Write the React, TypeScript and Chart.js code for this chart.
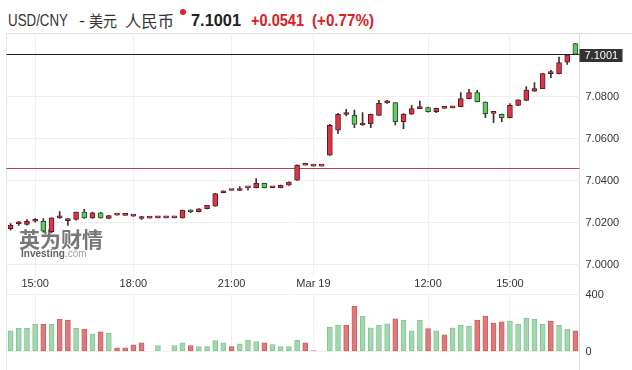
import React, { useEffect, useLayoutEffect, useRef } from "react";
import { Chart, registerables } from "chart.js";
Chart.register(...registerables);

// ---- data ----
const categories: string[] = Array.from({ length: 70 }, (_, i) => String(i));
const tickIndex = [3, 15, 27, 37, 51, 61];
const tickText = ["15:00", "18:00", "21:00", "Mar 19", "12:00", "15:00"];
const priceTicks = [7.0, 7.02, 7.04, 7.06, 7.08];
const volTicks = [0, 400];
const lastPrice = 7.1001;
const prevClose = 7.046;

const opens = [
  7.0172, 7.0196, 7.0193, 7.0208, 7.0208, 7.0158, 7.0224, 7.0211, 7.0216, 7.0251,
  7.0224, 7.0248, 7.0221, 7.0237, 7.0236, 7.0232, 7.0221, 7.0223, 7.0224, 7.0224,
  7.0224, 7.0224, 7.0261, 7.0253, 7.0267, 7.028, 7.0343, 7.0354, 7.0354, 7.0366,
  7.0367, 7.0388, 7.0367, 7.0367, 7.0379, 7.0403, 7.0474, 7.047, 7.047, 7.0522,
  7.0641, 7.0715, 7.0711, 7.0665, 7.0671, 7.0711, 7.077, 7.0771, 7.0681, 7.0716,
  7.0743, 7.0748, 7.0728, 7.0744, 7.0746, 7.0752, 7.079, 7.0819, 7.0774, 7.072,
  7.0716, 7.07, 7.0758, 7.0782, 7.0826, 7.0838, 7.0909, 7.0909, 7.0964, 7.1052,
];
const highs = [
  7.0197, 7.0207, 7.0216, 7.022, 7.0221, 7.0224, 7.0254, 7.0221, 7.0251, 7.0264,
  7.0251, 7.025, 7.0236, 7.0237, 7.0237, 7.0233, 7.0231, 7.0223, 7.0224, 7.0224,
  7.0227, 7.0261, 7.0262, 7.0268, 7.0284, 7.034, 7.0352, 7.0354, 7.0372, 7.0367,
  7.041, 7.0389, 7.0367, 7.038, 7.0395, 7.0476, 7.0474, 7.047, 7.047, 7.0668,
  7.072, 7.0739, 7.0736, 7.0724, 7.0717, 7.0782, 7.0782, 7.0772, 7.0719, 7.0758,
  7.0779, 7.075, 7.0745, 7.0744, 7.075, 7.0819, 7.0835, 7.083, 7.0775, 7.0721,
  7.0717, 7.0767, 7.0785, 7.0847, 7.0866, 7.091, 7.0925, 7.0988, 7.0999, 7.1053,
];
const lows = [
  7.0165, 7.0188, 7.0189, 7.0204, 7.0156, 7.0153, 7.0221, 7.0188, 7.0213, 7.0221,
  7.0221, 7.0222, 7.022, 7.0237, 7.0236, 7.0231, 7.0216, 7.0223, 7.0224, 7.0224,
  7.0224, 7.0223, 7.0248, 7.0252, 7.0266, 7.0279, 7.0342, 7.0354, 7.0353, 7.0356,
  7.0366, 7.0366, 7.0367, 7.0366, 7.0378, 7.0402, 7.0474, 7.047, 7.047, 7.0521,
  7.0624, 7.0708, 7.0652, 7.0663, 7.0652, 7.071, 7.0768, 7.0665, 7.0648, 7.0715,
  7.0743, 7.0726, 7.0724, 7.0744, 7.0746, 7.0751, 7.0789, 7.0775, 7.07, 7.0676,
  7.0681, 7.0699, 7.0757, 7.0781, 7.0825, 7.0837, 7.089, 7.0908, 7.0953, 7.1,
];
const closes = [
  7.0188, 7.0198, 7.0207, 7.0209, 7.0161, 7.0224, 7.0225, 7.0212, 7.0251, 7.0224,
  7.0248, 7.0224, 7.0235, 7.0237, 7.0237, 7.0232, 7.0221, 7.0223, 7.0224, 7.0224,
  7.0227, 7.0261, 7.0253, 7.0267, 7.0283, 7.0339, 7.0351, 7.0354, 7.0362, 7.0367,
  7.0388, 7.0367, 7.0367, 7.0379, 7.0394, 7.0475, 7.0474, 7.047, 7.047, 7.0663,
  7.0716, 7.0716, 7.0668, 7.0673, 7.0716, 7.0768, 7.0771, 7.0681, 7.0716, 7.0743,
  7.0744, 7.0728, 7.0744, 7.0744, 7.075, 7.079, 7.0819, 7.0776, 7.0719, 7.072,
  7.07, 7.0758, 7.0784, 7.0831, 7.0838, 7.0909, 7.091, 7.0961, 7.0998, 7.1001,
];
const volumes = [
  145, 163, 163, 191, 191, 191, 225, 221, 163, 157,
  122, 138, 129, 26, 26, 46, 60, 0, 41, 0,
  41, 60, 41, 34, 34, 76, 60, 34, 53, 81,
  69, 60, 48, 34, 34, 81, 60, 7, 0, 172,
  186, 186, 317, 248, 166, 186, 195, 230, 221, 145,
  221, 161, 145, 117, 166, 186, 179, 221, 248, 200,
  209, 214, 191, 234, 225, 191, 214, 184, 157, 145,
];
// 'g' = green bar, 'r' = red bar
const volSide = [
  "g", "g", "g", "g", "r", "g", "r", "r", "g", "r",
  "g", "r", "g", "r", "r", "r", "r", "g", "g", "g",
  "g", "g", "r", "g", "g", "g", "g", "r", "g", "g",
  "g", "r", "g", "g", "g", "g", "r", "r", "g", "g",
  "g", "r", "r", "g", "g", "g", "g", "r", "g", "g",
  "g", "r", "g", "r", "g", "g", "g", "r", "r", "r",
  "r", "g", "g", "g", "g", "g", "r", "g", "g", "r",
];

const FONT = "'Liberation Sans', Arial, sans-serif";
const CJKFONT = "'Noto Sans CJK SC', sans-serif";
const GRID = "#efefef";

const refLines = {
  id: "refLines",
  beforeDatasetsDraw(chart: any) {
    const { ctx, chartArea } = chart;
    const y = chart.scales.y;
    ctx.save();
    // watermark
    ctx.fillStyle = "rgba(95,95,95,0.85)";
    ctx.font = "bold 21px 'Noto Sans CJK SC', sans-serif";
    ctx.textBaseline = "alphabetic";
    ctx.fillText("英为财情", 19, 247);
    ctx.font = "bold 10px " + FONT;
    ctx.fillStyle = "rgba(80,80,80,0.9)";
    ctx.fillText("Investing", 21, 257);
    const w = ctx.measureText("Investing").width;
    ctx.font = "10px " + FONT;
    ctx.fillStyle = "rgba(150,150,150,0.9)";
    ctx.fillText(".com", 21 + w, 257);
    // previous close
    const yp = Math.round(y.getPixelForValue(prevClose)) + 0.5;
    ctx.strokeStyle = "#b4414f";
    ctx.lineWidth = 1;
    ctx.beginPath();
    ctx.moveTo(chartArea.left, yp);
    ctx.lineTo(chartArea.right, yp);
    ctx.stroke();
    // last price
    const yl = Math.round(y.getPixelForValue(lastPrice)) + 0.5;
    ctx.strokeStyle = "#222";
    ctx.beginPath();
    ctx.moveTo(chartArea.left, yl);
    ctx.lineTo(chartArea.right, yl);
    ctx.stroke();
    ctx.restore();
  },
  afterDraw(chart: any) {
    const { ctx, chartArea } = chart;
    const y = chart.scales.y;
    const yl = Math.round(y.getPixelForValue(lastPrice));
    ctx.save();
    ctx.fillStyle = "#333";
    ctx.fillRect(chartArea.right, yl - 5, 43, 13);
    ctx.fillStyle = "#fff";
    ctx.font = "11px " + FONT;
    ctx.textBaseline = "middle";
    ctx.fillText(lastPrice.toFixed(4), chartArea.right + 5, yl + 1.5);
    ctx.restore();
  },
};

function FitText(props: { text: string; left: number; top: number; width: number; size: number; color: string; bold?: boolean; family: string }) {
  const ref = useRef<HTMLSpanElement>(null);
  useLayoutEffect(() => {
    const fit = () => {
      const el = ref.current;
      if (!el) return;
      el.style.transform = "none";
      const natural = el.getBoundingClientRect().width;
      if (natural > 0) el.style.transform = `scaleX(${props.width / natural})`;
    };
    fit();
    const fonts = (document as any).fonts;
    if (fonts && fonts.ready) fonts.ready.then(fit);
    const t = window.setTimeout(fit, 50);
    return () => window.clearTimeout(t);
  }, []);
  return (
    <span
      ref={ref}
      style={{
        position: "absolute",
        left: props.left,
        top: props.top,
        whiteSpace: "pre",
        lineHeight: "20px",
        fontSize: props.size,
        fontWeight: props.bold ? "bold" : "normal",
        color: props.color,
        fontFamily: props.family,
        transformOrigin: "0 50%",
      }}
    >
      {props.text}
    </span>
  );
}

export default function App() {
  const priceRef = useRef<HTMLCanvasElement>(null);
  const volRef = useRef<HTMLCanvasElement>(null);

  useEffect(() => {
    const up = closes.map((c, i) => c >= opens[i]);
    const price = new Chart(priceRef.current as HTMLCanvasElement, {
      type: "bar",
      data: {
        labels: categories,
        datasets: [
          {
            label: "wick",
            data: lows.map((l, i) => [l, highs[i]]) as any,
            backgroundColor: "#333",
            borderWidth: 0,
            barThickness: 1,
            grouped: false,
            order: 2,
          } as any,
          {
            label: "body",
            data: opens.map((o, i) => [o, closes[i]]) as any,
            backgroundColor: up.map((u) => (u ? "#dc3545" : "#63c963")),
            borderColor: up.map((u) => (u ? "#5e1a22" : "#245224")),
            borderWidth: 1,
            borderSkipped: false,
            barThickness: 5,
            minBarLength: 2,
            grouped: false,
            order: 1,
          } as any,
        ],
      },
      options: {
        animation: false,
        responsive: false,
        events: [],
        layout: { padding: { left: 6.5, top: 33, right: 0, bottom: 0 } },
        plugins: { legend: { display: false }, tooltip: { enabled: false } },
        scales: {
          x: {
            type: "category",
            offset: true,
            grid: { color: GRID, drawTicks: false, offset: false },
            border: { display: false },
            ticks: {
              autoSkip: false,
              maxRotation: 0,
              padding: 0,
              color: "#333",
              font: { family: FONT, size: 11 },
              callback: (_v: any, i: number) => tickText[i],
            },
            afterBuildTicks: (s: any) => {
              s.ticks = tickIndex.map((v) => ({ value: v }));
            },
            afterFit: (s: any) => {
              s.height = 15;
            },
          } as any,
          y: {
            position: "right",
            min: 6.9943,
            max: 7.1102,
            grid: { color: GRID, drawTicks: false },
            border: { display: false },
            ticks: {
              padding: 6,
              color: "#333",
              font: { family: FONT, size: 11 },
              callback: (v: any) => Number(v).toFixed(4),
            },
            afterBuildTicks: (s: any) => {
              s.ticks = priceTicks.map((v) => ({ value: v }));
            },
            afterFit: (s: any) => {
              s.width = 52.5;
            },
          } as any,
        },
      },
      plugins: [refLines],
    });

    const vol = new Chart(volRef.current as HTMLCanvasElement, {
      type: "bar",
      data: {
        labels: categories,
        datasets: [
          {
            data: volumes,
            backgroundColor: volSide.map((s) => (s === "g" ? "#a2d8ad" : "#e07a7a")),
            borderColor: volSide.map((s) => (s === "g" ? "#86c593" : "#cf5d5d")),
            borderWidth: 1,
            borderSkipped: false,
            barThickness: 5,
          } as any,
        ],
      },
      options: {
        animation: false,
        responsive: false,
        events: [],
        layout: { padding: { left: 6.5, top: 16.5, right: 0, bottom: 18.5 } },
        plugins: { legend: { display: false }, tooltip: { enabled: false } },
        scales: {
          x: {
            type: "category",
            offset: true,
            grid: { color: GRID, drawTicks: false, offset: false },
            border: { display: false },
            ticks: { display: false },
            afterBuildTicks: (s: any) => {
              s.ticks = tickIndex.map((v) => ({ value: v }));
            },
            afterFit: (s: any) => {
              s.height = 0;
            },
          } as any,
          y: {
            position: "right",
            min: 0,
            max: 400,
            grid: { color: GRID, drawTicks: false },
            border: { display: false },
            ticks: {
              padding: 6,
              color: "#333",
              font: { family: FONT, size: 11 },
            },
            afterBuildTicks: (s: any) => {
              s.ticks = volTicks.map((v) => ({ value: v }));
            },
            afterFit: (s: any) => {
              s.width = 52.5;
            },
          } as any,
        },
      },
    });

    return () => {
      price.destroy();
      vol.destroy();
    };
  }, []);

  return (
    <div style={{ position: "fixed", left: 0, top: 0, width: 632, height: 370, background: "#fff", overflow: "hidden" }}>
      <FitText text="USD/CNY" left={8} top={11} width={60} size={17} color="#333" family={FONT} />
      <FitText text="-" left={79} top={11} width={6} size={17} color="#333" family={FONT} />
      <FitText text="美元" left={89} top={10} width={28} size={16} color="#333" family={CJKFONT} />
      <FitText text="人民币" left={125} top={10} width={49} size={16} color="#333" family={CJKFONT} />
      <span style={{ position: "absolute", left: 180, top: 9, width: 6, height: 6, borderRadius: 3, background: "#e02020" }} />
      <FitText text="7.1001" left={191} top={11} width={50} size={17} bold color="#222" family={FONT} />
      <FitText text="+0.0541" left={251} top={11} width={53} size={17} bold color="#d7201f" family={FONT} />
      <FitText text="(+0.77%)" left={312} top={11} width={62} size={17} bold color="#d7201f" family={FONT} />

      <div style={{ position: "absolute", left: 6, top: 33, width: 626, height: 1, background: "#dcdcdc" }} />
      <div style={{ position: "absolute", left: 6, top: 33, width: 1, height: 337, background: "#e6e6e6" }} />
      <div style={{ position: "absolute", left: 579, top: 33, width: 1, height: 337, background: "#dcdcdc" }} />

      <canvas ref={priceRef} width={632} height={292} style={{ position: "absolute", left: 0, top: 0 }} />
      <canvas ref={volRef} width={632} height={92} style={{ position: "absolute", left: 0, top: 278 }} />
    </div>
  );
}
